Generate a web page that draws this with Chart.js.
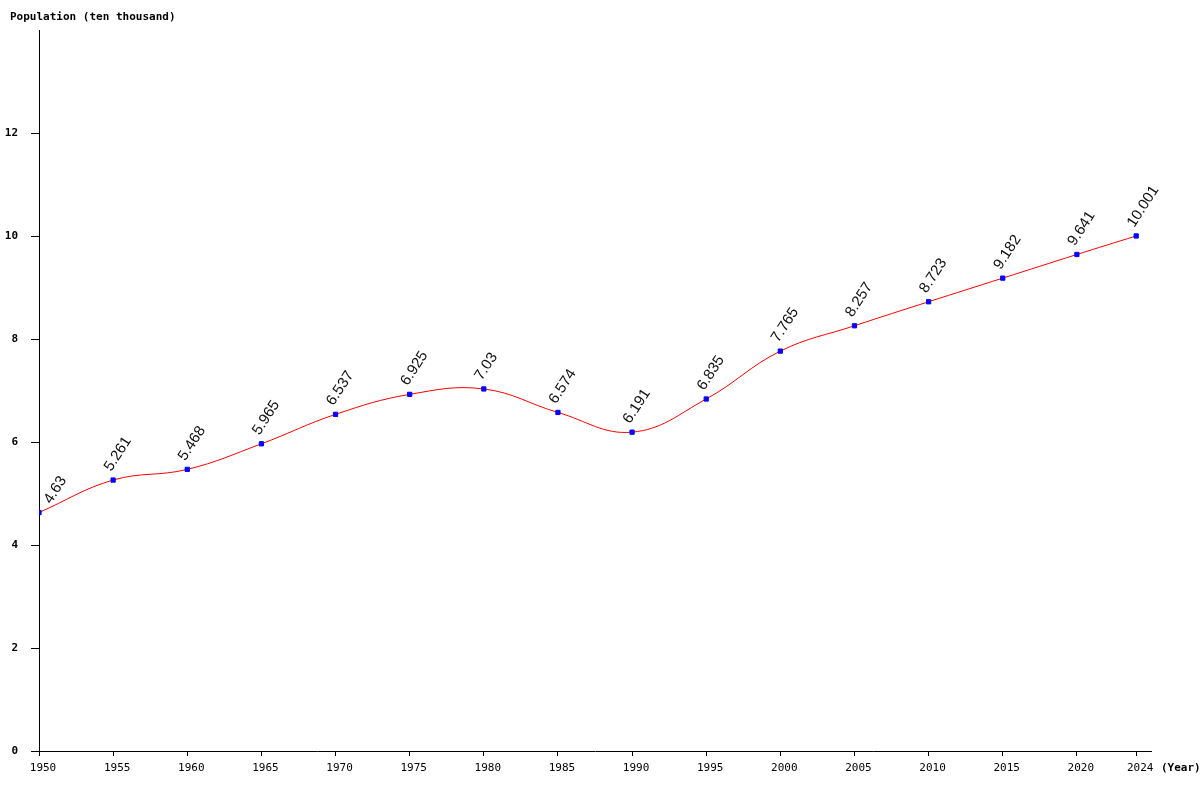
<!DOCTYPE html>
<html>
<head>
<meta charset="utf-8">
<script src="https://cdn.jsdelivr.net/npm/chart.js@4.4.1/dist/chart.umd.min.js"></script>
<style>
  html, body { margin: 0; padding: 0; background: #fff; }
  #wrap { position: relative; width: 1200px; height: 800px; }
  #title { position: absolute; left: 10px; top: 10px; font: bold 11px "DejaVu Sans Mono", monospace; color: #000; }
  #xname { position: absolute; left: 1161px; top: 761px; font: bold 11px "DejaVu Sans Mono", monospace; color: #000; }
</style>
</head>
<body>
<div id="wrap">
  <canvas id="chart" width="1200" height="800"></canvas>
  <div id="title">Population (ten thousand)</div>
  <div id="xname">(Year)</div>
</div>
<script>
// data
const years = [1950, 1955, 1960, 1965, 1970, 1975, 1980, 1985, 1990, 1995, 2000, 2005, 2010, 2015, 2020, 2024];
const population = [4.63, 5.261, 5.468, 5.965, 6.537, 6.925, 7.03, 6.574, 6.191, 6.835, 7.765, 8.257, 8.723, 9.182, 9.641, 10.001];
const yTicks = [0, 2, 4, 6, 8, 10, 12];

// rotated value labels above each point (kept inside the plot on the left)
const valueLabels = {
  id: "valueLabels",
  afterDatasetsDraw(chart) {
    const ctx = chart.ctx;
    const meta = chart.getDatasetMeta(0);
    const left = chart.chartArea.left;
    ctx.save();
    ctx.font = "15px 'Liberation Sans', Arial, sans-serif";
    ctx.fillStyle = "#111";
    ctx.textBaseline = "alphabetic";
    ctx.textAlign = "left";
    meta.data.forEach((pt, i) => {
      ctx.save();
      ctx.translate(Math.max(pt.x - 2, left + 12), pt.y - 8);
      ctx.rotate(-57 * Math.PI / 180);
      ctx.fillText(String(population[i]), 0, 0);
      ctx.restore();
    });
    ctx.restore();
  }
};

const ctx = document.getElementById("chart").getContext("2d");
new Chart(ctx, {
  type: "line",
  data: {
    datasets: [{
      data: years.map((y, i) => ({ x: y, y: population[i] })),
      borderColor: "#ff0000",
      borderWidth: 1,
      tension: 0.4,
      pointStyle: "rect",
      pointRadius: 3,
      pointBackgroundColor: "#0000ff",
      pointBorderColor: "#0000ff",
      fill: false
    }]
  },
  options: {
    responsive: false,
    animation: false,
    layout: { padding: { top: 30, right: 49, left: 0, bottom: 0 } },
    plugins: { legend: { display: false }, tooltip: { enabled: false } },
    scales: {
      x: {
        type: "linear",
        min: 1950,
        max: 2025,
        afterBuildTicks: (scale) => { scale.ticks = years.map(v => ({ value: v })); },
        afterFit: (scale) => { scale.height = 49; },
        border: { display: true, color: "#000", width: 1 },
        grid: { drawOnChartArea: false, drawTicks: true, tickLength: 5, color: "#000" },
        ticks: {
          autoSkip: false,
          maxRotation: 0,
          padding: 6,
          labelOffset: 4,
          color: "#000",
          font: { family: "'DejaVu Sans Mono', monospace", size: 11 },
          callback: (v) => String(v)
        }
      },
      y: {
        min: 0,
        max: 14,
        afterBuildTicks: (scale) => { scale.ticks = yTicks.map(v => ({ value: v })); },
        afterFit: (scale) => { scale.width = 39; },
        border: { display: true, color: "#000", width: 1 },
        grid: { drawOnChartArea: false, drawTicks: true, tickLength: 8, color: "#000" },
        ticks: {
          padding: 13,
          color: "#000",
          font: { family: "'DejaVu Sans Mono', monospace", size: 11, weight: "bold" }
        }
      }
    }
  },
  plugins: [valueLabels]
});
</script>
</body>
</html>
